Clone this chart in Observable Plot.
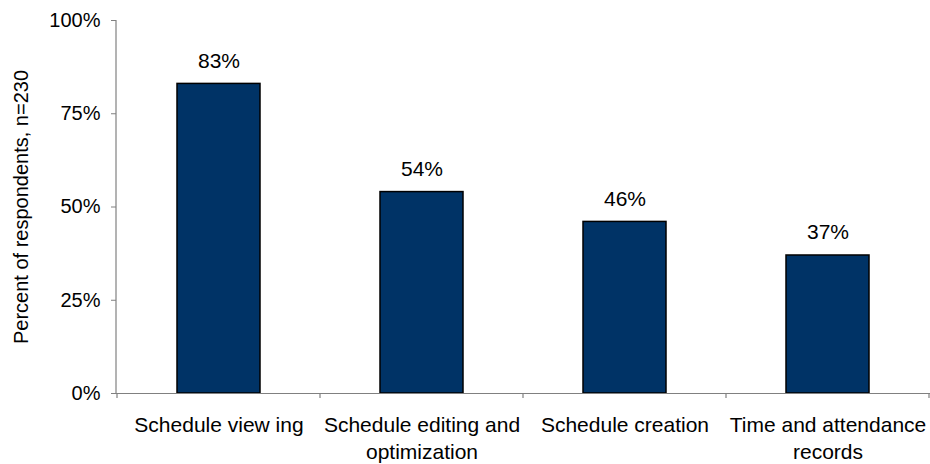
<!DOCTYPE html>
<html>
<head>
<meta charset="utf-8">
<script src="https://cdn.jsdelivr.net/npm/d3@7"></script>
<script src="https://cdn.jsdelivr.net/npm/@observablehq/plot@0.6"></script>
<style>
  html, body { margin: 0; padding: 0; background: #fff; }
  #chart svg { display: block; font-family: "Liberation Sans", Arial, sans-serif; }
</style>
</head>
<body>
<div id="chart"></div>
<script>
const categories = [
  "Schedule view ing",
  "Schedule editing and\noptimization",
  "Schedule creation",
  "Time and attendance\nrecords"
];
const values = [0.83, 0.54, 0.46, 0.37];
const valueLabels = ["83%", "54%", "46%", "37%"];
const yTicks = [0, 0.25, 0.5, 0.75, 1];
const yLabel = "Percent of respondents, n=230";

const data = categories.map((c, i) => ({cat: c, val: values[i], label: valueLabels[i]}));

const W = 930, H = 464;
const mL = 116, mR = 0, mT = 20, mB = 71;
const axisColor = "#808080";

const plot = Plot.plot({
  width: W,
  height: H,
  marginLeft: mL,
  marginRight: mR,
  marginTop: mT,
  marginBottom: mB,
  style: {fontFamily: "'Liberation Sans', Arial, sans-serif", fontSize: "20px", color: "#000", background: "#fff", overflow: "visible"},
  x: {domain: categories, paddingInner: 0.59, paddingOuter: 0.295},
  y: {domain: [0, 1]},
  marks: [
    Plot.barY(data, {x: "cat", y: "val", fill: "#003366", stroke: "#000", strokeWidth: 1.5}),
    Plot.text(data, {x: "cat", y: "val", text: "label", dy: -16, lineAnchor: "bottom", fontSize: 21, fill: "#000"}),
    Plot.ruleY([0], {stroke: axisColor, strokeWidth: 1.2, insetLeft: -5}),
    Plot.axisY({
      ticks: yTicks,
      tickFormat: d3.format(".0%"),
      tickSize: 5,
      tickPadding: 11,
      stroke: axisColor,
      fontSize: 20,
      label: yLabel,
      labelAnchor: "center",
      labelArrow: "none",
      labelOffset: 103,
      tickSpacing: 10
    }),
    Plot.axisX({
      tickSize: 0,
      tickPadding: 19,
      fontSize: 21,
      lineHeight: 1.29,
      label: null
    })
  ]
});

document.getElementById("chart").appendChild(plot);

// Vertical axis line and category-boundary ticks, positioned from the library's scales
const sx = plot.scale("x");
const sy = plot.scale("y");
const svg = d3.select(plot);
const y0 = sy.apply(0), y1 = sy.apply(1);
svg.append("line")
  .attr("x1", mL).attr("x2", mL)
  .attr("y1", y1).attr("y2", y0)
  .attr("stroke", axisColor).attr("stroke-width", 1.2);
const gap = sx.step - sx.bandwidth;
const bounds = categories.map(c => sx.apply(c) - gap / 2).concat([sx.apply(categories[categories.length - 1]) + sx.bandwidth + gap / 2]);
svg.append("g").selectAll("line").data(bounds).join("line")
  .attr("x1", d => d).attr("x2", d => d)
  .attr("y1", y0).attr("y2", y0 + 5)
  .attr("stroke", axisColor).attr("stroke-width", 1.2);
</script>
</body>
</html>
